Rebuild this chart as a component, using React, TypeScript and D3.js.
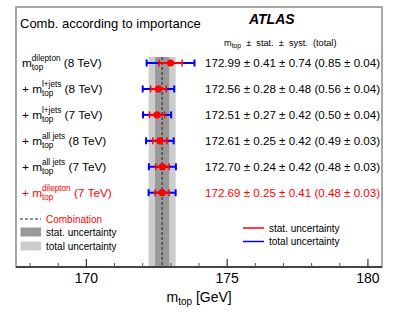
import React from "react";
import * as d3 from "d3";

const supLabels = ["dilepton", "l+jets", "l+jets", "all jets", "all jets", "dilepton"];
const energies = ["(8 TeV)", "(8 TeV)", "(7 TeV)", "(8 TeV)", "(7 TeV)", "(7 TeV)"];
const central = [172.99, 172.56, 172.51, 172.61, 172.70, 172.69];
const statErr = [0.41, 0.28, 0.27, 0.25, 0.24, 0.25];
const systErr = [0.74, 0.48, 0.42, 0.42, 0.42, 0.41];
const totalErr = [0.85, 0.56, 0.50, 0.49, 0.48, 0.48];
const totalErrErr = [0.04, 0.04, 0.04, 0.03, 0.03, 0.03];
const combValue = 172.69;
const combStat = 0.25;
const combTotal = 0.48;
const xTicks = [170, 175, 180];

const W = 399, H = 312;
const FONT = "'Liberation Sans', Arial, Helvetica, sans-serif";

let ctx: CanvasRenderingContext2D | null = null;
function textW(s: string, size: number) {
  if (!ctx) ctx = document.createElement("canvas").getContext("2d");
  if (!ctx) return s.length * size * 0.5;
  ctx.font = `${size}px ${FONT}`;
  return ctx.measureText(s).width;
}

export default function App() {
  const left = 16, right = 382, top = 7, bottom = 267;
  const x = d3.scaleLinear().domain([167.5, 180.5]).range([left, right]);
  const y = d3.scaleLinear().domain([0, 5]).range([63, 192.7]);
  const bandTop = 57;
  const minor = d3.range(168, 181, 1).filter((v) => v % 5 !== 0);

  const labFs = 11.8, supFs = 8.2;
  const labels = supLabels.map((sup, i) => {
    const color = i === 5 ? "#ff0000" : "#000";
    let cx = 22;
    const parts: React.ReactNode[] = [];
    const yy = y(i) + 4;
    if (i > 0) {
      parts.push(<text key="p" x={cx} y={yy} fontSize={labFs} fill={color}>+</text>);
      cx += textW("+ ", labFs);
    }
    parts.push(<text key="m" x={cx} y={yy} fontSize={labFs} fill={color}>m</text>);
    cx += textW("m", labFs);
    parts.push(<text key="s" x={cx} y={yy - 6} fontSize={supFs} fill={color}>{sup}</text>);
    parts.push(<text key="b" x={cx} y={yy + 3} fontSize={supFs} fill={color}>top</text>);
    cx += Math.max(textW(sup, supFs), textW("top", supFs)) + textW(" ", labFs);
    parts.push(<text key="e" x={cx} y={yy} fontSize={labFs} fill={color}>{energies[i]}</text>);
    return <g key={i}>{parts}</g>;
  });

  const valFs = 11.6;
  const values = central.map((c, i) => (
    <text key={i} x={205} y={y(i) + 4} fontSize={valFs} fill={i === 5 ? "#ff0000" : "#000"}>
      {`${c.toFixed(2)} ± ${statErr[i].toFixed(2)} ± ${systErr[i].toFixed(2)} (${totalErr[i].toFixed(2)} ± ${totalErrErr[i].toFixed(2)})`}
    </text>
  ));

  const errBars = central.map((c, i) => {
    const yy = y(i);
    const t0 = x(c - totalErr[i]), t1 = x(c + totalErr[i]);
    const s0 = x(c - statErr[i]), s1 = x(c + statErr[i]);
    return (
      <g key={i}>
        <line x1={t0} x2={t1} y1={yy} y2={yy} stroke="#0000ff" strokeWidth={2} />
        <line x1={t0} x2={t0} y1={yy - 3.5} y2={yy + 3.5} stroke="#0000ff" strokeWidth={2} />
        <line x1={t1} x2={t1} y1={yy - 3.5} y2={yy + 3.5} stroke="#0000ff" strokeWidth={2} />
        <line x1={s0} x2={s1} y1={yy} y2={yy} stroke="#ff0000" strokeWidth={2} />
        <line x1={s0} x2={s0} y1={yy - 3.5} y2={yy + 3.5} stroke="#ff0000" strokeWidth={1.5} />
        <line x1={s1} x2={s1} y1={yy - 3.5} y2={yy + 3.5} stroke="#ff0000" strokeWidth={1.5} />
        <circle cx={x(c)} cy={yy} r={3.6} fill="#ff0000" />
      </g>
    );
  });

  const hdrFs = 9.2;
  return (
    <svg width={W} height={H} style={{ position: "absolute", left: 0, top: 0, fontFamily: FONT }}>
      <rect x={0} y={0} width={W} height={H} fill="#fff" />
      {/* bands */}
      <rect x={x(combValue - combTotal)} y={bandTop} width={x(combValue + combTotal) - x(combValue - combTotal)} height={bottom - bandTop} fill="#cccccc" />
      <rect x={x(combValue - combStat)} y={bandTop} width={x(combValue + combStat) - x(combValue - combStat)} height={bottom - bandTop} fill="#999999" />
      <line x1={x(combValue)} x2={x(combValue)} y1={bandTop} y2={bottom} stroke="#222" strokeWidth={1} strokeDasharray="3,2" />
      {errBars}
      {/* frame */}
      <rect x={left} y={top} width={right - left} height={bottom - top} fill="none" stroke="#8a8a8a" strokeWidth={1.5} />
      <line x1={left} x2={right} y1={bottom} y2={bottom} stroke="#222" strokeWidth={1.5} />
      {xTicks.map((t) => (
        <g key={t}>
          <line x1={x(t)} x2={x(t)} y1={bottom} y2={bottom - 8} stroke="#333" strokeWidth={1.2} />
          <text x={x(t)} y={283} fontSize={14} textAnchor="middle">{t}</text>
        </g>
      ))}
      {minor.map((t) => (
        <line key={t} x1={x(t)} x2={x(t)} y1={bottom} y2={bottom - 4} stroke="#555" strokeWidth={1} />
      ))}
      <text x={166.5} y={302} fontSize={14}>
        m<tspan fontSize={10} dy={3}>top</tspan><tspan dy={-3}> [GeV]</tspan>
      </text>
      {/* title texts */}
      <text x={20} y={28} fontSize={13}>Comb. according to importance</text>
      <text x={249} y={24} fontSize={14} fontWeight="bold" fontStyle="italic">ATLAS</text>
      <text x={224} y={46} fontSize={hdrFs} style={{ whiteSpace: "pre" }}>
        m<tspan fontSize={6.8} dy={2}>top</tspan><tspan dy={-2}>{"  ±  stat.  ±  syst.  (total)"}</tspan>
      </text>
      {labels}
      {values}
      {/* left legend */}
      <line x1={20} x2={41} y1={219} y2={219} stroke="#222" strokeWidth={1} strokeDasharray="3,2" />
      <text x={46} y={222.5} fontSize={10} fill="#ff0000">Combination</text>
      <rect x={20.5} y={227.5} width={20.5} height={9} fill="#999999" />
      <text x={46} y={235.5} fontSize={10}>stat. uncertainty</text>
      <rect x={20.5} y={241.5} width={20.5} height={9} fill="#cccccc" />
      <text x={46} y={249.5} fontSize={10}>total uncertainty</text>
      {/* right legend */}
      <line x1={243} x2={264} y1={228} y2={228} stroke="#ff0000" strokeWidth={1.5} />
      <text x={269} y={231.5} fontSize={10}>stat. uncertainty</text>
      <line x1={243} x2={264} y1={241.5} y2={241.5} stroke="#0000ff" strokeWidth={1.5} />
      <text x={269} y={245} fontSize={10}>total uncertainty</text>
    </svg>
  );
}
